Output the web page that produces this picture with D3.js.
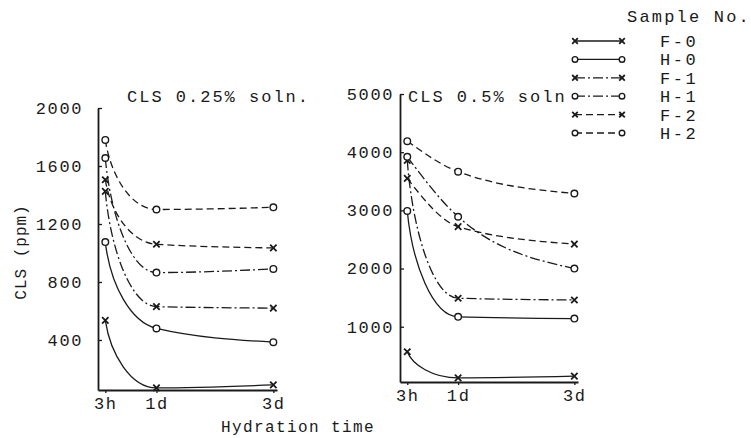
<!DOCTYPE html>
<html>
<head>
<meta charset="utf-8">
<script src="https://cdn.jsdelivr.net/npm/d3@7"></script>
<style>
  html, body { margin: 0; padding: 0; background: #fff; }
  svg { display: block; }
  text { font-family: "Liberation Mono", "DejaVu Sans Mono", monospace; fill: #1a1a1a; }
</style>
</head>
<body>
<svg id="chart" width="751" height="438"></svg>
<script>
// ---------------- data ----------------
const categories = ["3h", "1d", "3d"];
const hours = [3, 24, 72];
const seriesNames = ["F-0", "H-0", "F-1", "H-1", "F-2", "H-2"];
const markerTypes = ["x", "o", "x", "o", "x", "o"];
const lineStyles = ["solid", "solid", "dashdot", "dashdot", "dash", "dash"];

// CLS 0.25% solution (ppm)
const f0_025 = [535, 70, 90];
const h0_025 = [1075, 480, 385];
const f1_025 = [1425, 630, 620];
const h1_025 = [1655, 865, 890];
const f2_025 = [1505, 1060, 1035];
const h2_025 = [1780, 1300, 1315];

// CLS 0.5% solution (ppm)
const f0_05 = [570, 120, 150];
const h0_05 = [2990, 1170, 1140];
const f1_05 = [3860, 1490, 1460];
const h1_05 = [3920, 2890, 2000];
const f2_05 = [3550, 2720, 2420];
const h2_05 = [4190, 3665, 3290];

const yTicks025 = [400, 800, 1200, 1600, 2000];
const yTicks05 = [1000, 2000, 3000, 4000, 5000];

const titles = ["CLS 0.25% soln.", "CLS 0.5% soln"];
const legendTitle = "Sample No.";
const xTitle = "Hydration time";
const yTitle = "CLS (ppm)";

// ---------------- drawing ----------------
const svg = d3.select("#chart");
const ink = "#1a1a1a";

const dashFor = s => s === "dash" ? "7,4" : (s === "dashdot" ? "10,3,2,3" : null);

// custom curve: steep decay segments start almost vertically and flatten
function decayCurve(context) {
  let pts = [];
  return {
    areaStart() {}, areaEnd() {},
    lineStart() { pts = []; },
    point(x, y) { pts.push([+x, +y]); },
    lineEnd() {
      const n = pts.length;
      if (!n) return;
      context.moveTo(pts[0][0], pts[0][1]);
      if (n === 1) return;
      const h = [], s = [];
      for (let i = 0; i < n - 1; i++) {
        h.push(pts[i + 1][0] - pts[i][0]);
        s.push((pts[i + 1][1] - pts[i][1]) / h[i]);
      }
      const t = new Array(n).fill(0);
      for (let i = 1; i < n - 1; i++) {
        const p = (s[i - 1] * h[i] + s[i] * h[i - 1]) / (h[i - 1] + h[i]);
        t[i] = (Math.sign(s[i - 1]) + Math.sign(s[i])) *
               Math.min(Math.abs(s[i - 1]), Math.abs(s[i]), 0.5 * Math.abs(p)) || 0;
      }
      t[0] = n > 2 ? (3 * s[0] - t[1]) / 2 : s[0];
      t[n - 1] = n > 2 ? (3 * s[n - 2] - t[n - 2]) / 2 : s[n - 2];
      for (let i = 0; i < n - 1; i++) {
        const [x0, y0] = pts[i], [x1, y1] = pts[i + 1];
        const dx = h[i], dy = y1 - y0;
        const steep = i === 0 && n > 2 && Math.abs(s[1]) < 0.1 * Math.abs(s[0]);
        if (steep) {
          context.bezierCurveTo(x0 + 0.1 * dx, y0 + 0.5 * dy,
                                x1 - 0.5 * dx, y1 - t[1] * 0.5 * dx,
                                x1, y1);
        } else {
          context.bezierCurveTo(x0 + dx / 3, y0 + t[i] * dx / 3,
                                x1 - dx / 3, y1 - t[i + 1] * dx / 3,
                                x1, y1);
        }
      }
    }
  };
}

function drawMarker(g, type, cx, cy, r) {
  if (type === "o") {
    g.append("circle").attr("cx", cx).attr("cy", cy).attr("r", r)
      .attr("fill", "#fff").attr("stroke", ink).attr("stroke-width", 1.4);
  } else {
    const d = r;
    g.append("path")
      .attr("d", `M${cx - d},${cy - d}L${cx + d},${cy + d}M${cx - d},${cy + d}L${cx + d},${cy - d}`)
      .attr("stroke", ink).attr("stroke-width", 1.8).attr("fill", "none");
  }
}

function panel(cfg) {
  const x = d3.scaleLinear().domain([0, 73.5]).range([cfg.x0, cfg.x1]);
  const y = d3.scaleLinear().domain(cfg.yDomain).range([cfg.yBottom, cfg.yTop]);
  const g = svg.append("g");

  const line = d3.line()
    .x((d, i) => x(hours[i]))
    .y(d => y(d))
    .curve(decayCurve);

  cfg.series.forEach((vals, k) => {
    g.append("path")
      .attr("d", line(vals))
      .attr("fill", "none")
      .attr("stroke", ink)
      .attr("stroke-width", 1.3)
      .attr("stroke-dasharray", dashFor(lineStyles[k]));
  });
  cfg.series.forEach((vals, k) => {
    vals.forEach((v, i) => drawMarker(g, markerTypes[k], x(hours[i]), y(v), markerTypes[k] === "o" ? 3.3 : 3.2));
  });

  // y axis
  const ya = g.append("g")
    .attr("transform", `translate(${cfg.x0},0)`)
    .call(d3.axisLeft(y).tickValues(cfg.yTicks).tickSizeInner(-4).tickSizeOuter(0)
      .tickPadding(cfg.yPad).tickFormat(d3.format("d")));
  // x axis
  const xa = g.append("g")
    .attr("transform", `translate(0,${cfg.yBottom})`)
    .call(d3.axisBottom(x).tickValues(hours).tickSizeInner(3).tickSizeOuter(0)
      .tickPadding(4).tickFormat((d, i) => categories[i]));
  [ya, xa].forEach(a => {
    a.select(".domain").attr("stroke", ink).attr("stroke-width", 1.8);
    a.selectAll(".tick line").attr("stroke", ink).attr("stroke-width", 1.3);
    a.selectAll(".tick text")
      .style("font-family", '"Liberation Mono", "DejaVu Sans Mono", monospace')
      .style("font-size", "17px").style("letter-spacing", "1.6px").attr("fill", ink);
  });

  svg.append("text")
    .attr("x", cfg.titleX).attr("y", 102)
    .style("font-size", "17px").style("letter-spacing", "2px")
    .text(cfg.title);
}

panel({
  x0: 98, x1: 277, yTop: 108, yBottom: 390, yDomain: [55, 2000],
  yTicks: yTicks025, yPad: 15, title: titles[0], titleX: 127,
  series: [f0_025, h0_025, f1_025, h1_025, f2_025, h2_025]
});
panel({
  x0: 400, x1: 578, yTop: 94, yBottom: 382, yDomain: [50, 5000],
  yTicks: yTicks05, yPad: 6, title: titles[1], titleX: 408,
  series: [f0_05, h0_05, f1_05, h1_05, f2_05, h2_05]
});

// axis titles
svg.append("text")
  .attr("x", 298).attr("y", 432).attr("text-anchor", "middle")
  .style("font-size", "16px").style("letter-spacing", "1.4px")
  .text(xTitle);
svg.append("text")
  .attr("transform", "translate(26,252) rotate(-90)").attr("text-anchor", "middle")
  .style("font-size", "16px").style("letter-spacing", "1px")
  .text(yTitle);

// legend
const lg = svg.append("g");
lg.append("text").attr("x", 627).attr("y", 22)
  .style("font-size", "17px").style("letter-spacing", "2.2px").text(legendTitle);
seriesNames.forEach((name, k) => {
  const cy = 41 + k * 18.4;
  lg.append("line").attr("x1", 575).attr("x2", 622).attr("y1", cy).attr("y2", cy)
    .attr("stroke", ink).attr("stroke-width", 1.3)
    .attr("stroke-dasharray", dashFor(lineStyles[k]));
  drawMarker(lg, markerTypes[k], 575, cy, 2.8);
  drawMarker(lg, markerTypes[k], 622, cy, 2.8);
  lg.append("text").attr("x", 660).attr("y", cy + 6)
    .style("font-size", "17px").style("letter-spacing", "2.5px").text(name);
});
</script>
</body>
</html>
